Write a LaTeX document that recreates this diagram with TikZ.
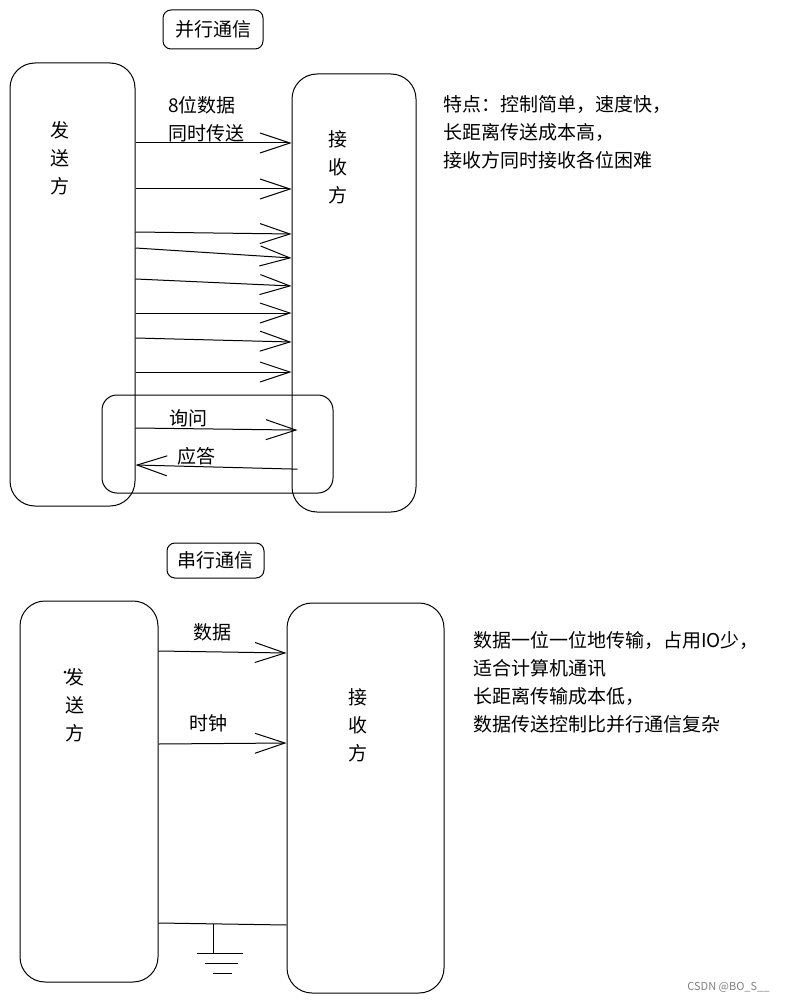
\documentclass[tikz,border=0pt]{standalone}
\usepackage{fontspec}
\setmainfont{Noto Sans CJK SC}
\usetikzlibrary{arrows.meta}
\tikzset{
  box/.style={draw, line width=1pt, rounded corners=25pt, inner sep=0pt},
  titlebox/.style={draw, line width=1pt, rounded corners=8pt, inner sep=0pt},
  sig/.style={line width=1pt, -{Straight Barb[length=30pt,width=20pt,line width=1pt]}},
  vtext/.style={align=center, inner sep=0pt},
  note/.style={align=left, anchor=north west, inner sep=0pt},
}
\begin{document}
\begin{tikzpicture}[x=1pt, y=-1pt, font=\fontsize{19}{28}\selectfont]
    \useasboundingbox (0,0) rectangle (788,1003);

    % 并行通信
    \node[titlebox, minimum width=100pt, minimum height=39pt] (title1) at (213,29.5) {并行通信};
    \node[box, minimum width=125pt, minimum height=443pt] (send1) at (72.5,284.5) {};
    \node[box, minimum width=124pt, minimum height=438pt] (recv1) at (354,293) {};
    \node[vtext] (sendtxt1) at (60,158) {发\\送\\方};
    \node[vtext] (recvtxt1) at (338,167) {接\\收\\方};
    \node[note] (bits) at (168,96) {8位数据\\同时传送};

    % 8 根数据线
    \foreach \a/\b in {143/143, 189/189, 232/234, 248/258, 279/286, 313/313, 338/342, 372/372}
        \draw[sig] (send1.east |- 0,\a) -- (recv1.west |- 0,\b);

    % 询问 / 应答
    \node[box, rounded corners=15pt, minimum width=231pt, minimum height=98pt] (ask) at (217.5,444) {};
    \draw[sig, shorten >=-6pt] (send1.east |- 0,428) -- (recv1.west |- 0,430);
    \draw[sig, shorten <=-6pt] (recv1.west |- 0,469) -- (send1.east |- 0,465);
    \node (asktxt) at (188,418) {询问};
    \node (anstxt) at (196,456) {应答};

    \node[note] (feat1) at (443,95) {特点：控制简单，速度快，\\长距离传送成本高，\\接收方同时接收各位困难};

    % 串行通信
    \node[titlebox, minimum width=97pt, minimum height=35pt] (title2) at (215.5,560.5) {串行通信};
    \node[box, minimum width=138pt, minimum height=381pt] (send2) at (89,791.5) {};
    \node[box, minimum width=157pt, minimum height=390pt] (recv2) at (365.5,798) {};
    \fill (65,672) circle (1.5pt);
    \node[vtext] (sendtxt2) at (75,705) {发\\送\\方};
    \node[vtext] (recvtxt2) at (358,725) {接\\收\\方};

    % 数据线和时钟线
    \draw[sig] (send2.east |- 0,651) -- (recv2.west |- 0,653);
    \draw[sig] (send2.east |- 0,744) -- (recv2.west |- 0,743);
    \node (datatxt) at (212,632) {数据};
    \node (clktxt) at (208,723) {时钟};

    % 地线
    \coordinate (gnd) at (213,924);
    \draw[line width=1pt] (send2.east |- 0,923) -- (recv2.west |- 0,925);
    \draw[line width=1pt] (gnd) -- ++(0,29) coordinate (gndtop);
    \draw[line width=1pt] (gndtop) ++(-16,0) -- ++(46,0);
    \draw[line width=1pt] (gndtop) ++(-8,10) -- ++(33,0);
    \draw[line width=1pt] (gndtop) ++(0,20) -- ++(19,0);

    \node[note] (feat2) at (473,631) {数据一位一位地传输，占用IO少，\\适合计算机通讯\\长距离传输成本低，\\数据传送控制比并行通信复杂};

    \node[anchor=east, font=\fontsize{11}{13}\selectfont, text=gray] (mark) at (773,987) {CSDN @BO\_S\_\_};
\end{tikzpicture}
\end{document}
